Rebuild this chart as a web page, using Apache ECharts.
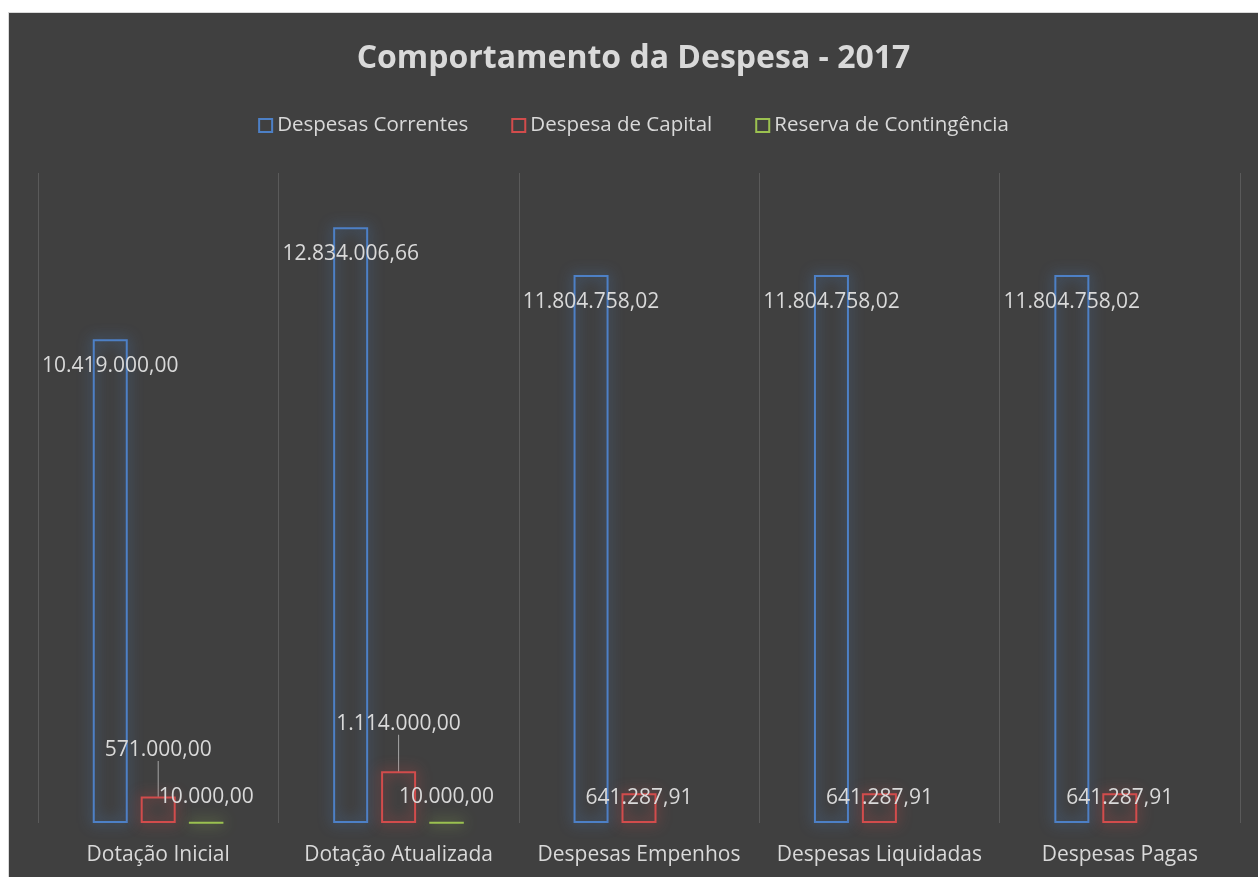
<!DOCTYPE html>
<html>
<head>
<meta charset="utf-8">
<script src="https://cdn.jsdelivr.net/npm/echarts@6/dist/echarts.min.js"></script>
<style>
  html, body { margin: 0; padding: 0; background: #ffffff; }
  #chart { position: absolute; left: 8px; top: 12px; width: 1250px; height: 865px;
           border-left: 1px solid #d9d9d9; border-top: 1px solid #d9d9d9; box-sizing: border-box; }
</style>
</head>
<body>
<div id="chart"></div>
<script>
const titleText = 'Comportamento da Despesa - 2017';
const categories = ['Dotação Inicial', 'Dotação Atualizada', 'Despesas Empenhos', 'Despesas Liquidadas', 'Despesas Pagas'];
const seriesNames = ['Despesas Correntes', 'Despesa de Capital', 'Reserva de Contingência'];
const despesasCorrentes = [10419000.00, 12834006.66, 11804758.02, 11804758.02, 11804758.02];
const despesaCapital = [571000.00, 1114000.00, 641287.91, 641287.91, 641287.91];
const reservaContingencia = [10000.00, 10000.00, null, null, null];
const yMin = 0;
const yMax = 14000000;

// label styling (offsets of moved labels)
const capitalLabelLift = [-51, -52, 0, 0, 0];

function fmtBR(v) {
  const parts = Number(v).toFixed(2).split('.');
  parts[0] = parts[0].replace(/\B(?=(\d{3})+(?!\d))/g, '.');
  return parts[0] + ',' + parts[1];
}

const colors = ['#4d80c6', '#d24c4c', '#9bc150'];
const glow = ['rgba(74,125,194,1)', 'rgba(207,74,74,1)', 'rgba(155,193,80,1)'];
const textColor = '#d9d9d9';
const fontFamily = '"Open Sans", Lato, sans-serif';

function barSeries(i, data, labelDist) {
  return {
    name: seriesNames[i],
    type: 'bar',
    data: data,
    barWidth: 35,
    barGap: '37%',
    itemStyle: {
      color: 'rgba(0,0,0,0)',
      borderColor: colors[i],
      borderWidth: 2,
      shadowBlur: 14,
      shadowColor: glow[i]
    },
    label: {
      show: true,
      position: 'insideTop',
      distance: labelDist,
      verticalAlign: 'middle',
      align: 'center',
      color: textColor,
      fontFamily: fontFamily,
      fontSize: 21,
      formatter: p => (p.value == null ? '' : fmtBR(p.value))
    },
    emphasis: { disabled: true }
  };
}

const chart = echarts.init(document.getElementById('chart'));
const sCorr = barSeries(0, despesasCorrentes, 27);
const sCap = barSeries(1, despesaCapital, 5);
sCap.labelLayout = function (params) {
  const dy = capitalLabelLift[params.dataIndex];
  return dy ? { dy: dy } : {};
};
sCap.labelLine = { show: true, lineStyle: { color: '#a6a6a6', width: 1 } };
const sRes = barSeries(2, reservaContingencia, -25);

chart.setOption({
  backgroundColor: '#404040',
  animation: false,
  title: {
    text: titleText,
    left: 'center',
    top: 25,
    textStyle: { color: textColor, fontFamily: fontFamily, fontWeight: 'bold', fontSize: 32 }
  },
  legend: {
    data: seriesNames,
    top: 97,
    left: 'center',
    icon: 'rect',
    itemWidth: 13,
    itemHeight: 13,
    itemGap: 43,
    textStyle: { color: textColor, fontFamily: fontFamily, fontSize: 20.5 }
  },
  grid: { left: 29, right: 18, top: 160, bottom: 54, containLabel: false },
  xAxis: {
    type: 'category',
    data: categories,
    axisLine: { show: false },
    axisTick: { show: false },
    splitLine: { show: true, lineStyle: { color: '#5a5a5a', width: 1 } },
    axisLabel: { color: textColor, fontFamily: fontFamily, fontSize: 21, margin: 22, interval: 0 }
  },
  yAxis: {
    type: 'value',
    min: yMin,
    max: yMax,
    show: false,
    splitLine: { show: false }
  },
  series: [sCorr, sCap, sRes]
});
</script>
</body>
</html>
